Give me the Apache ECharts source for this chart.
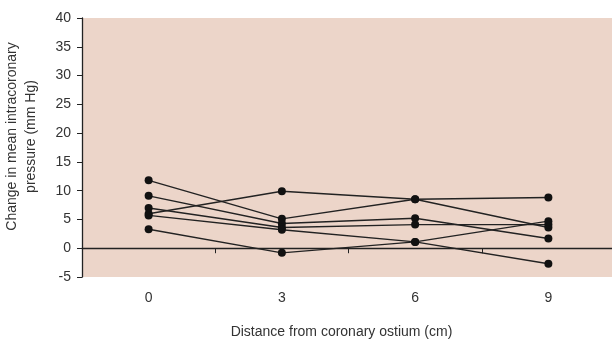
<!DOCTYPE html>
<html><head><meta charset="utf-8">
<script src="https://cdn.jsdelivr.net/npm/echarts@6/dist/echarts.min.js"></script>
<style>html,body{margin:0;padding:0;background:#fff}#c{width:612px;height:343px}</style>
</head><body><div id="c"></div>
<script>
const categories = ['0', '3', '6', '9'];
const yTicks = { min: -5, max: 40, interval: 5 };
const subjectA = [11.8, 5.1, 8.5, 3.6];
const subjectB = [9.1, 4.3, 5.2, 1.7];
const subjectC = [7.0, 3.6, 4.1, 4.1];
const subjectD = [6.0, 9.9, 8.5, 8.8];
const subjectE = [5.7, 3.2, 1.1, -2.7];
const subjectF = [3.3, -0.8, 1.1, 4.7];
const subjects = [subjectA, subjectB, subjectC, subjectD, subjectE, subjectF];

const FONT = '"Liberation Sans", Arial, sans-serif';
const chart = echarts.init(document.getElementById('c'));
chart.setOption({
  animation: false,
  grid: { left: 82, right: -3, top: 18, bottom: 66, show: true, backgroundColor: '#ECD5C9', borderWidth: 0, outerBoundsMode: 'none', containLabel: false },
  xAxis: [{
    type: 'category', data: categories, boundaryGap: true,
    axisLine: { show: false, onZero: false }, axisTick: { show: false },
    axisLabel: { margin: 14, color: '#333', fontFamily: FONT, fontSize: 14 },
    name: 'Distance from coronary ostium (cm)', nameLocation: 'middle', nameGap: 48,
    nameTextStyle: { color: '#333', fontFamily: FONT, fontSize: 14, padding: [0, 14, 0, 0] }
  }, {
    type: 'category', data: categories, boundaryGap: true, position: 'bottom',
    axisLine: { show: true, onZero: true, lineStyle: { color: '#222', width: 1.3 } },
    axisTick: { show: true, length: 5, lineStyle: { color: '#222' } },
    axisLabel: { show: false }
  }],
  yAxis: {
    type: 'value', min: yTicks.min, max: yTicks.max, interval: yTicks.interval,
    splitLine: { show: false },
    axisLine: { show: true, onZero: false, lineStyle: { color: '#222', width: 1.3 } },
    axisTick: { show: true, length: 5, lineStyle: { color: '#222' } },
    axisLabel: { margin: 11, color: '#333', fontFamily: FONT, fontSize: 14 },
    name: 'Change in mean intracoronary\npressure (mm Hg)', nameLocation: 'middle', nameGap: 41,
    nameTextStyle: { color: '#333', fontFamily: FONT, fontSize: 14, lineHeight: 19, padding: [0, 0, 0, 22] }
  },
  series: subjects.map(d => ({
    type: 'line', data: d, xAxisIndex: 0,
    symbol: 'circle', symbolSize: 8,
    itemStyle: { color: '#111' },
    lineStyle: { color: '#222', width: 1.4 }
  }))
});
</script></body></html>
